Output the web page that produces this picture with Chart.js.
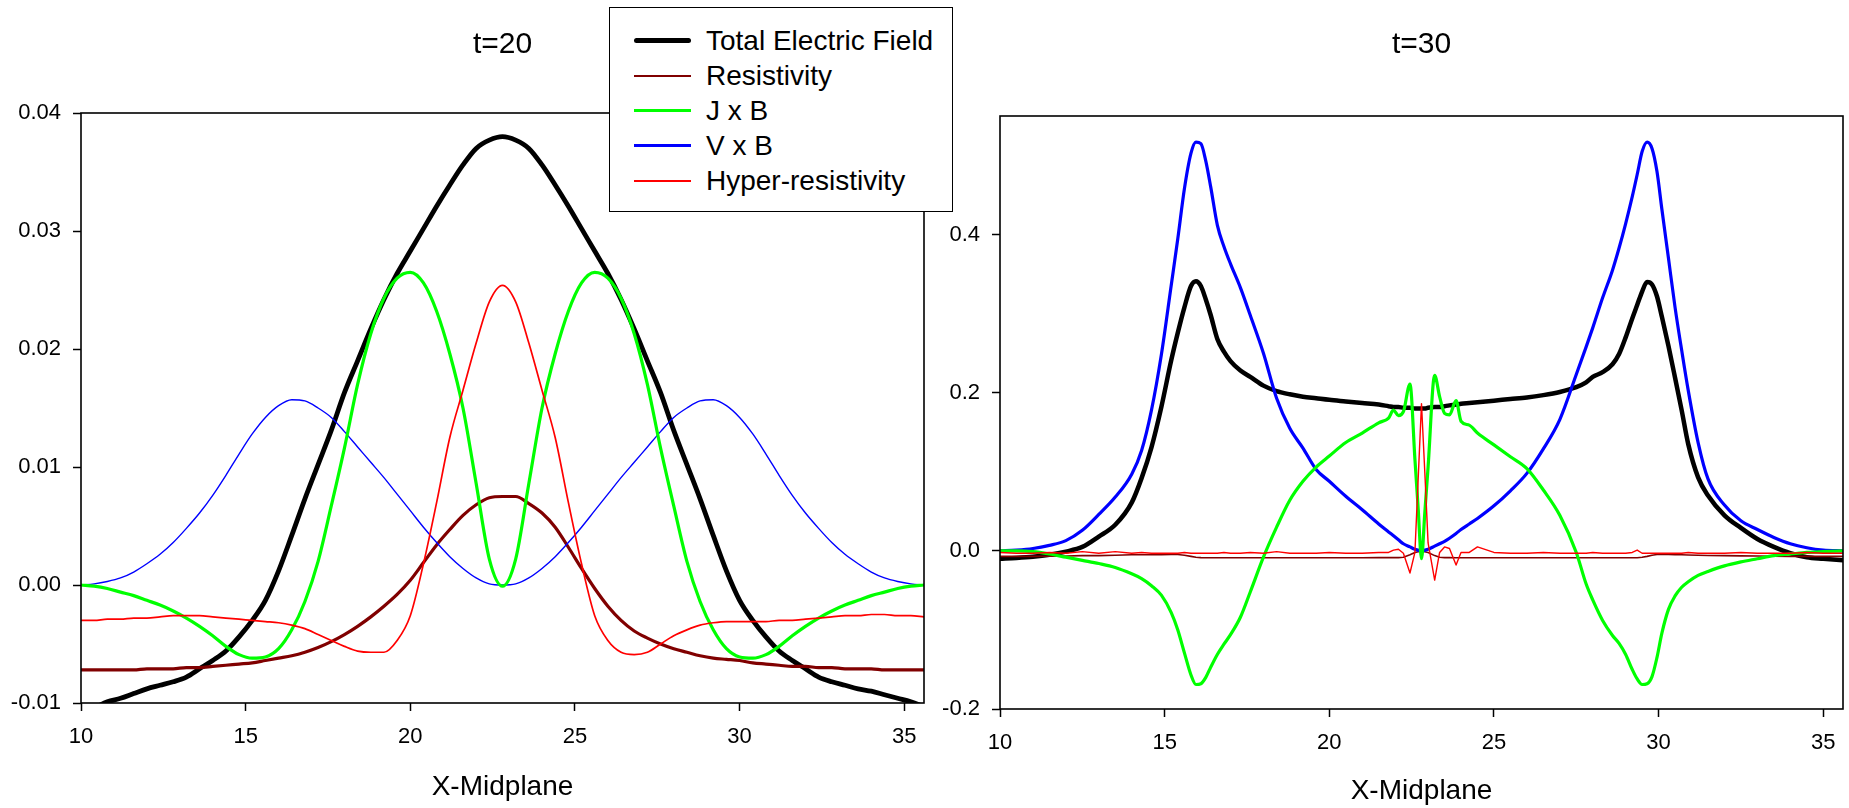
<!DOCTYPE html>
<html><head><meta charset="utf-8">
<script src="https://cdn.jsdelivr.net/npm/chart.js@4.4.1/dist/chart.umd.min.js"></script>
<style>
html,body{margin:0;padding:0;background:#fff;width:1849px;height:808px;overflow:hidden;font-family:"Liberation Sans",Arial,sans-serif;}
canvas{position:absolute;top:0;}
#c1{left:0;}
#c2{left:930px;}
#legend{position:absolute;left:609px;top:7px;width:342px;height:203px;border:1.5px solid #000;background:#fff;z-index:5;}
.row{position:absolute;left:0;width:100%;height:35px;}
.sw{position:absolute;left:24px;width:57px;}
.lt{position:absolute;left:96px;top:0;height:35px;line-height:35px;font-size:28px;color:#000;white-space:nowrap;}
</style></head>
<body>
<canvas id="c1" width="960" height="808"></canvas>
<canvas id="c2" width="919" height="808"></canvas>
<div id="legend"></div>
<script>
const FONT = '"Liberation Sans", Arial, sans-serif';
const seriesNames = ['Total Electric Field','Resistivity','J x B','V x B','Hyper-resistivity'];
const seriesColors = ['#000000','#800000','#00ff00','#0000ff','#ff0000'];
const xTickValues = [10,15,20,25,30,35];
const yTicksT20 = [-0.01,0,0.01,0.02,0.03,0.04];
const yTicksT30 = [-0.2,0,0.2,0.4];
const titles = ['t=20','t=30'];
const axisTitle = 'X-Midplane';

// ---- t=20 ----
const xT20 = [10.0,10.4,10.8,11.2,11.6,12.0,12.4,12.8,13.2,13.6,14.0,14.4,14.8,15.2,15.6,16.0,16.4,16.8,17.2,17.6,18.0,18.4,18.8,19.2,19.6,20.0,20.4,20.8,21.2,21.6,22.0,22.4,22.8,23.2,23.6,24.0,24.4,24.8,25.2,25.6,26.0,26.4,26.8,27.2,27.6,28.0,28.4,28.8,29.2,29.6,30.0,30.4,30.8,31.2,31.6,32.0,32.4,32.8,33.2,33.6,34.0,34.4,34.8,35.2,35.6];
const totalT20 = [-0.0108,-0.0104,-0.0099,-0.0096,-0.0092,-0.0088,-0.0085,-0.0082,-0.0078,-0.0071,-0.0064,-0.0056,-0.0044,-0.0030,-0.0013,0.0012,0.0042,0.0073,0.0102,0.0131,0.0163,0.0190,0.0217,0.0242,0.0264,0.0283,0.0302,0.0321,0.0339,0.0356,0.0370,0.0377,0.0380,
 0.0377,0.0370,0.0356,0.0339,0.0321,0.0302,0.0283,0.0264,0.0242,0.0217,0.0190,0.0163,0.0131,0.0102,0.0073,0.0042,0.0012,-0.0013,-0.0030,-0.0044,-0.0056,-0.0064,-0.0071,-0.0078,-0.0082,-0.0085,-0.0088,-0.0090,-0.0093,-0.0096,-0.0099,-0.0103];
const resistT20 = [-0.0072,-0.0072,-0.0072,-0.0072,-0.0072,-0.0071,-0.0071,-0.0071,-0.0070,-0.0070,-0.0069,-0.0068,-0.0067,-0.0066,-0.0064,-0.0062,-0.0060,-0.0057,-0.0053,-0.0048,-0.0042,-0.0035,-0.0027,-0.0018,-0.0008,0.0004,0.0019,0.0034,0.0047,0.0059,0.0068,0.0074,0.0075,
 0.0075,0.0069,0.0061,0.0049,0.0032,0.0014,-0.0003,-0.0018,-0.0030,-0.0039,-0.0045,-0.0050,-0.0054,-0.0057,-0.0060,-0.0062,-0.0063,-0.0064,-0.0066,-0.0067,-0.0068,-0.0069,-0.0069,-0.0070,-0.0070,-0.0071,-0.0071,-0.0071,-0.0072,-0.0072,-0.0072,-0.0072];
const jxbT20 = [0.0000,-0.0001,-0.0003,-0.0006,-0.0009,-0.0013,-0.0017,-0.0022,-0.0028,-0.0035,-0.0043,-0.0052,-0.0059,-0.0062,-0.0061,-0.0054,-0.0038,-0.0014,0.0020,0.0067,0.0116,0.0170,0.0213,0.0243,0.0260,0.0265,0.0256,0.0232,0.0196,0.0150,0.0086,0.0022,-0.0001,
 0.0022,0.0086,0.0150,0.0196,0.0232,0.0256,0.0265,0.0260,0.0243,0.0213,0.0170,0.0116,0.0067,0.0020,-0.0014,-0.0038,-0.0054,-0.0061,-0.0062,-0.0059,-0.0052,-0.0043,-0.0035,-0.0028,-0.0022,-0.0017,-0.0013,-0.0009,-0.0006,-0.0003,-0.0001,0.0000];
const vxbT20 = [0.0000,0.0001,0.0003,0.0006,0.0011,0.0018,0.0026,0.0036,0.0048,0.0061,0.0076,0.0093,0.0111,0.0128,0.0142,0.0152,0.0157,0.0156,0.0150,0.0142,0.0130,0.0117,0.0104,0.0091,0.0077,0.0063,0.0049,0.0036,0.0024,0.0014,0.0006,0.0001,0.0000,
 0.0001,0.0006,0.0014,0.0024,0.0036,0.0049,0.0063,0.0077,0.0091,0.0104,0.0117,0.0130,0.0142,0.0150,0.0156,0.0157,0.0152,0.0142,0.0128,0.0111,0.0093,0.0076,0.0061,0.0048,0.0036,0.0026,0.0018,0.0011,0.0006,0.0003,0.0001,0.0000];
const hyperT20 = [-0.0030,-0.0030,-0.0029,-0.0029,-0.0028,-0.0028,-0.0027,-0.0026,-0.0026,-0.0026,-0.0027,-0.0028,-0.0029,-0.0030,-0.0031,-0.0032,-0.0034,-0.0037,-0.0042,-0.0047,-0.0052,-0.0056,-0.0057,-0.0057,-0.0047,-0.0026,0.0018,0.0070,0.0125,0.0165,0.0205,0.0240,0.0254,
 0.0240,0.0205,0.0165,0.0125,0.0070,0.0018,-0.0026,-0.0047,-0.0057,-0.0059,-0.0057,-0.0050,-0.0043,-0.0038,-0.0034,-0.0032,-0.0031,-0.0031,-0.0031,-0.0031,-0.0030,-0.0030,-0.0029,-0.0028,-0.0027,-0.0026,-0.0026,-0.0025,-0.0025,-0.0026,-0.0026,-0.0027];

// ---- t=30 ----
const xT30 = [10.0,10.5,11.0,11.5,12.0,12.5,13.0,13.5,14.0,14.3,14.6,14.9,15.2,15.4,15.6,15.8,15.95,16.1,16.25,16.4,16.6,16.8,17.0,17.3,17.6,18.0,18.4,18.8,19.2,19.6,20.0,20.5,21.0,21.5,21.8,21.95,22.1,22.25,22.45,22.6,22.7,22.8,22.9,23.0,23.2,23.35,23.5,23.65,23.85,24.0,24.25,24.5,25.0,25.5,26.0,26.5,27.0,27.5,27.8,28.0,28.3,28.6,28.8,29.0,29.2,29.35,29.5,29.65,29.8,29.95,30.1,30.3,30.5,30.7,30.9,31.2,31.5,32.0,32.5,33.0,33.5,34.0,34.5,35.0,35.6];
const totalT30 = [-0.010,-0.009,-0.0075,-0.005,-0.001,0.005,0.018,0.033,0.061,0.092,0.131,0.182,0.241,0.276,0.308,0.335,0.341,0.335,0.318,0.298,0.268,0.252,0.240,0.228,0.220,0.209,0.202,0.198,0.195,0.193,0.191,0.189,0.187,0.185,0.183,0.182,0.182,0.181,0.181,0.180,0.180,0.180,0.180,0.181,0.182,0.182,0.183,0.184,0.185,0.186,0.187,0.188,0.190,0.192,0.194,0.197,0.201,0.207,0.213,0.220,0.226,0.236,0.249,0.270,0.294,0.311,0.328,0.340,0.337,0.322,0.296,0.259,0.219,0.178,0.135,0.093,0.070,0.045,0.029,0.015,0.005,-0.003,-0.008,-0.010,-0.012];
const resistT30 = [-0.007,-0.007,-0.007,-0.0068,-0.0065,-0.006,-0.006,-0.0055,-0.005,-0.005,-0.005,-0.0048,-0.0046,-0.0046,-0.0055,-0.007,-0.008,-0.0085,-0.0088,-0.0088,-0.0088,-0.0088,-0.0088,-0.0088,-0.0088,-0.0088,-0.0088,-0.0088,-0.0088,-0.0088,-0.0088,-0.0087,-0.0087,-0.0086,-0.0086,-0.0085,-0.0085,-0.008,-0.005,-0.002,-0.001,-0.001,-0.001,-0.002,-0.006,-0.008,-0.0085,-0.0086,-0.0087,-0.0087,-0.0088,-0.0088,-0.0088,-0.0088,-0.0088,-0.0088,-0.0088,-0.0088,-0.0088,-0.0088,-0.0088,-0.0088,-0.0088,-0.0088,-0.0088,-0.0088,-0.008,-0.007,-0.0055,-0.0045,-0.0042,-0.0045,-0.005,-0.005,-0.0052,-0.0055,-0.0058,-0.006,-0.0063,-0.0065,-0.0068,-0.007,-0.007,-0.007,-0.007];
const jxbT30 = [0.000,0.000,-0.001,-0.004,-0.008,-0.012,-0.016,-0.021,-0.029,-0.035,-0.044,-0.056,-0.078,-0.100,-0.129,-0.157,-0.169,-0.168,-0.160,-0.147,-0.131,-0.118,-0.106,-0.084,-0.052,-0.008,0.030,0.064,0.088,0.106,0.120,0.137,0.149,0.162,0.168,0.178,0.171,0.176,0.211,0.116,0.053,-0.010,0.048,0.106,0.222,0.195,0.174,0.172,0.190,0.164,0.159,0.149,0.134,0.119,0.104,0.077,0.045,-0.002,-0.042,-0.062,-0.088,-0.107,-0.117,-0.131,-0.150,-0.162,-0.169,-0.168,-0.159,-0.135,-0.104,-0.074,-0.057,-0.046,-0.039,-0.031,-0.026,-0.019,-0.014,-0.010,-0.006,-0.004,-0.002,-0.001,0.000];
const vxbT30 = [0.000,0.001,0.003,0.007,0.013,0.026,0.046,0.068,0.097,0.127,0.178,0.248,0.336,0.395,0.458,0.503,0.517,0.515,0.493,0.460,0.412,0.385,0.363,0.333,0.298,0.250,0.193,0.155,0.130,0.103,0.088,0.069,0.052,0.034,0.024,0.019,0.014,0.009,0.005,0.002,0.001,0.000,0.001,0.002,0.006,0.009,0.012,0.016,0.022,0.027,0.034,0.041,0.057,0.076,0.098,0.129,0.166,0.223,0.258,0.282,0.320,0.355,0.383,0.414,0.448,0.476,0.505,0.517,0.509,0.480,0.432,0.370,0.308,0.254,0.203,0.137,0.091,0.058,0.038,0.027,0.017,0.009,0.004,0.001,0.000];
const hyperT30 = [-0.002,-0.003,-0.003,-0.002,-0.003,-0.001,-0.003,-0.001,-0.003,-0.002,-0.003,-0.003,-0.003,-0.003,-0.002,-0.003,-0.003,-0.003,-0.003,-0.003,-0.003,-0.002,-0.003,-0.003,-0.002,-0.003,-0.001,-0.003,-0.003,-0.003,-0.002,-0.003,-0.003,-0.002,-0.002,0.001,0.002,-0.003,-0.028,-0.002,0.092,0.186,0.100,0.010,-0.037,-0.002,0.005,0.003,-0.018,-0.002,-0.002,0.005,-0.002,-0.003,-0.003,-0.002,-0.003,-0.003,-0.003,-0.002,-0.003,-0.003,-0.003,-0.003,-0.002,0.001,-0.003,-0.003,-0.003,-0.003,-0.003,-0.003,-0.003,-0.003,-0.002,-0.003,-0.003,-0.003,-0.002,-0.003,-0.003,-0.003,-0.002,-0.003,-0.003];

// ---- helpers ----
function pts(xs, ys){ return xs.map((x,i)=>({x:x, y:ys[i]})); }

const framePlugin = {
  id:'frame',
  afterDatasetsDraw(chart){
    const {ctx, chartArea:a} = chart;
    ctx.save(); ctx.strokeStyle='#000'; ctx.lineWidth=1.6;
    ctx.strokeRect(a.left, a.top, a.right-a.left, a.bottom-a.top);
    ctx.restore();
  }
};
const titlePlugin = {
  id:'ptitle',
  afterDraw(chart, args, opts){
    const {ctx, chartArea:a} = chart;
    ctx.save(); ctx.fillStyle='#000'; ctx.font='30px '+FONT;
    ctx.textAlign='center'; ctx.textBaseline='middle';
    ctx.fillText(opts.text, (a.left+a.right)/2, opts.y);
    ctx.restore();
  }
};

function makeChart(id, cfg){
  const order = [5,4,2,3,1];
  return new Chart(document.getElementById(id), {
    type:'line',
    data:{datasets: cfg.series.map((s,k)=>({
      label: seriesNames[k], data: pts(cfg.x, s),
      borderColor: seriesColors[k], backgroundColor: seriesColors[k],
      borderWidth: cfg.widths[k], pointRadius:0, fill:false,
      cubicInterpolationMode: cfg.modes[k]==='lin' ? 'default' : 'monotone',
      tension: 0, order: order[k], borderJoinStyle:'round', borderCapStyle:'round'
    }))},
    options:{
      responsive:false, animation:false, devicePixelRatio:1,
      events:[],
      layout:{padding:{left:0, right:cfg.padR, top:cfg.padT, bottom:0}},
      plugins:{legend:{display:false}, tooltip:{enabled:false}, ptitle:{text:cfg.title, y:45}},
      scales:{
        x:{type:'linear', min:10, max:35.6,
          afterBuildTicks:s=>{ s.ticks = xTickValues.map(v=>({value:v})); },
          afterFit:s=>{ s.height = cfg.xh; },
          grid:{drawOnChartArea:false, drawTicks:true, tickLength:8, tickColor:'#000', tickWidth:1.5},
          border:{display:false},
          ticks:{color:'#000', font:{family:FONT, size:22}, padding:13, maxRotation:0, autoSkip:false, callback:v=>String(v)},
          title:{display:true, text:axisTitle, color:'#000', font:{family:FONT, size:28}, padding:{top:0, bottom:cfg.tpb}}
        },
        y:{type:'linear', min:cfg.ymin, max:cfg.ymax,
          afterBuildTicks:s=>{ s.ticks = cfg.yticks.map(v=>({value:v})); },
          afterFit:s=>{ s.width = cfg.yw; },
          grid:{drawOnChartArea:false, drawTicks:true, tickLength:8, tickColor:'#000', tickWidth:1.5},
          border:{display:false},
          ticks:{color:'#000', font:{family:FONT, size:22}, padding:12, autoSkip:false, callback:v=>Number(v).toFixed(cfg.dec)}
        }
      }
    },
    plugins:[framePlugin, titlePlugin]
  });
}

makeChart('c1', {
  x:xT20, series:[totalT20, resistT20, jxbT20, vxbT20, hyperT20],
  widths:[4.8, 3.2, 3.2, 1.4, 1.7], modes:['mono','mono','mono','mono','mono'],
  title:titles[0], padR:36, padT:113, xh:105, yw:81, tpb:4,
  ymin:-0.01, ymax:0.04, yticks:yTicksT20, dec:2
});
makeChart('c2', {
  x:xT30, series:[totalT30, resistT30, jxbT30, vxbT30, hyperT30],
  widths:[4.5, 1.6, 3.2, 3.2, 1.4], modes:['mono','lin','mono','mono','lin'],
  title:titles[1], padR:6, padT:116, xh:99, yw:70, tpb:0,
  ymin:-0.2, ymax:0.55, yticks:yTicksT30, dec:1
});

// legend (HTML, from the series names/colours)
const legendWidths = [5, 2, 3, 3, 2];
const lg = document.getElementById('legend');
seriesNames.forEach((name,k)=>{
  const row = document.createElement('div');
  row.className='row'; row.style.top = (15 + k*35) + 'px';
  const sw = document.createElement('div');
  sw.className='sw'; sw.style.height = legendWidths[k]+'px';
  sw.style.top = Math.round(17.5 - legendWidths[k]/2) + 'px';
  sw.style.background = seriesColors[k];
  if (k===0) sw.style.borderRadius='3px';
  const t = document.createElement('div'); t.className='lt'; t.textContent = name;
  row.appendChild(sw); row.appendChild(t); lg.appendChild(row);
});
</script>
</body></html>
